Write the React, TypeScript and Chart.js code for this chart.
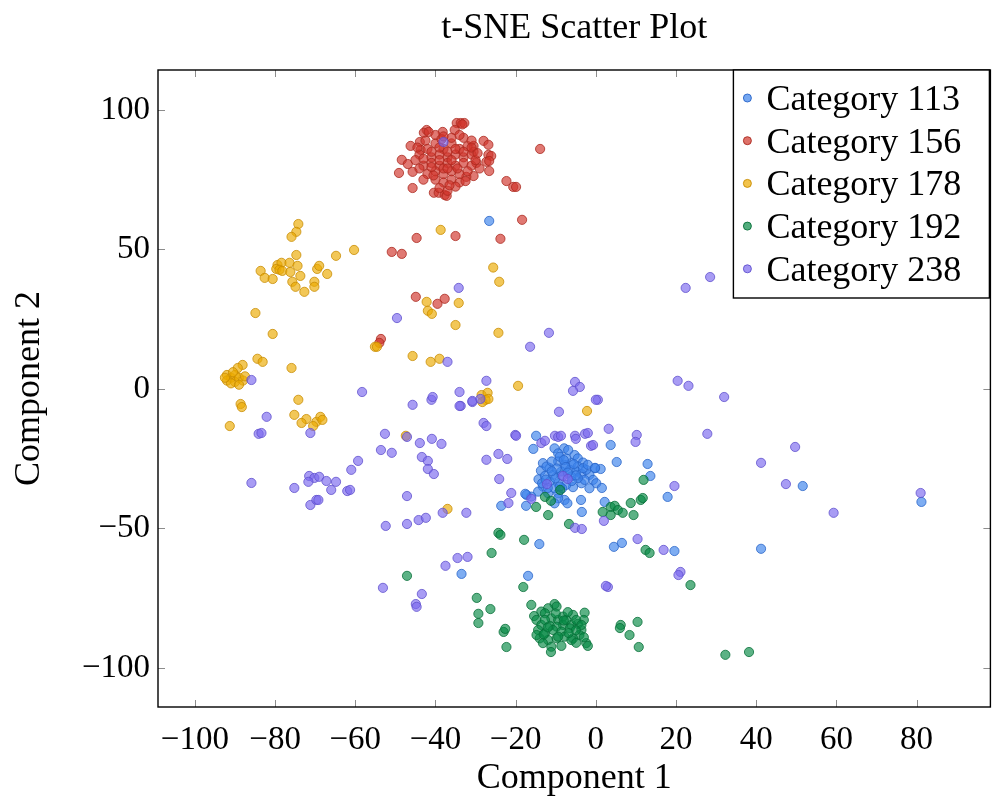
import React, { useEffect, useRef } from 'react';
import { Chart, registerables } from 'chart.js';

Chart.register(...registerables);

const FONT = '"Liberation Serif", "Times New Roman", serif';

const chartTitle = 't-SNE Scatter Plot';
const xTitle = 'Component 1';
const yTitle = 'Component 2';
const categories = ['Category 113', 'Category 156', 'Category 178', 'Category 192', 'Category 238'];
const xTicks = [-100, -80, -60, -40, -20, 0, 20, 40, 60, 80];
const yTicks = [-100, -50, 0, 50, 100];

const cat113: [number, number][] = [
  [-10.3, -21.3], [-7.9, -21.3], [-9.4, -23.1], [-5.3, -23.7], [-4.5, -24.9], [-3.2, -26.4], [-13.2, -26.6],
  [-13.7, -29.3], [-11.5, -28.4], [-9.4, -26], [-7.8, -27.2], [-6.1, -26.6], [-4.5, -27.8], [-14.3, -32.4],
  [-12.7, -31.2], [-10.7, -30.8], [-8.6, -29.6], [-6.5, -29], [-4.9, -29.6], [-3.6, -30.5], [-1.6, -30.8],
  [-0.7, -32.6], [0.1, -33.8], [-1.6, -35.6], [-3.6, -33.8], [-5.7, -35.2], [-7.4, -34.4], [-9.4, -33.8],
  [-11.5, -33.2], [-13.2, -35], [-14.4, -36.8], [-11.9, -37.4], [-9.4, -37.4], [-7.8, -39.8], [-7.1, -41],
  [-9.4, -39.2], [-10.3, -41], [-9, -24.3], [-7.4, -24.9], [-6.9, -21.9], [-12.3, -27.8], [-2.8, -32.6],
  [-4.5, -32], [-6.1, -31.4], [-10.1, -32], [-8.4, -35.6], [-13.4, -33.8], [-16.1, -38.6], [-17.3, -38],
  [-10.3, -35.6], [-2.4, -29], [-0.2, -28.4], [-3.2, -28.4], [-2, -27.2], [-8, -25.5], [-6, -33],
  [-11, -26], [-5, -31], [-12, -35.5], [-8.5, -31], [-7.5, -28], [-9.8, -28.5],
  [-11, -29.5], [-7, -30], [-9, -35], [-5.5, -27], [-12.5, -32.5],
  [-14.9, -16.8], [-15.6, -21.5], [3.7, -20.1], [5.2, -26.2], [12.9, -26.9], [13.6, -31.2], [1.2, -28.7],
  [-0.2, -28.3], [1.5, -35.5], [2.2, -40.5], [-3.7, -39.8], [-3.5, -44.1], [-23.6, -41.9], [-17.4, -41.9],
  [-17.6, -37.6], [-14.1, -55.6], [6.5, -55.2], [4.5, -56.6], [-16.9, -67], [19.6, -58.1], [-33.5, -66.3],
  [51.6, -34.8], [81.2, -40.5], [41.2, -57.3], [-26.6, 60.2], [17.9, -38.7],
];

const cat156: [number, number][] = [
  [-13.9, 86], [-22.3, 74.5], [-20.6, 72.4], [-19.9, 72.4], [-18.4, 60.6], [-23.8, 53.8], [-35, 54.8],
  [-44.7, 54.1], [-50.9, 49.1], [-48.4, 48.4], [-44.9, 33], [-39.5, 30.5], [-37.7, 32.3], [-53.6, 17.9],
  [-54, 16.5],
  [-34.7, 95.3], [-33.7, 95.3], [-32.8, 95.3], [-33.3, 94.8], [-42.2, 92.8], [-42.9, 91.8], [-41.7, 92.1],
  [-38.2, 92.1], [-35.2, 92.8], [-46.2, 87.1], [-43.9, 88.5], [-43.7, 85.7], [-28, 88.9], [-26.8, 87.5],
  [-30.5, 87.1], [-30.5, 85], [-26.8, 83.9], [-26.1, 83.5], [-27.3, 81.4], [-26.6, 81.7], [-26.6, 78.1],
  [-29.8, 81], [-30.5, 76.3], [-32.3, 76], [-48.4, 82.1], [-46.9, 80.6], [-49.1, 77.4], [-45.7, 77.8],
  [-45.7, 72], [-40.4, 70.3], [-39.2, 70.3], [-37.7, 69.5], [-37.2, 69.2],
  [-42, 86], [-40, 88], [-38, 86], [-36, 88], [-34, 86], [-32, 87], [-41, 83], [-39, 84], [-37, 83],
  [-35, 84], [-33, 83], [-31, 84], [-43, 80], [-41, 81], [-39, 80], [-37, 81], [-35, 80], [-33, 81],
  [-31, 80], [-42, 77], [-40, 78], [-38, 77], [-36, 78], [-34, 77], [-32, 78], [-40, 75], [-38, 74],
  [-36, 75], [-34, 74], [-39, 72], [-37, 71], [-44, 84], [-44, 79], [-30, 82], [-29, 79], [-45, 82],
  [-36, 90], [-40, 91], [-33, 90], [-38, 79], [-36, 82], [-39, 86.5], [-41, 79.5], [-35, 72.5],
  [-38.5, 89.5], [-43, 75], [-34, 91], [-31, 89], [-37, 85],
  [-41, 85], [-39, 82], [-37, 79], [-35, 86], [-33, 85], [-31, 86.5], [-43, 82.5], [-40.5, 76.5],
  [-36.5, 73], [-34.5, 79], [-32.5, 74.5], [-38, 90.5], [-42.5, 89], [-29.5, 84.5], [-44.5, 86.5],
];

const cat178: [number, number][] = [
  [-74.2, 59.1], [-74.7, 56.3], [-75.9, 54.5], [-74.7, 48], [-64.8, 47.7], [-60.3, 49.8], [-83.6, 42.3],
  [-82.6, 39.8], [-80.6, 39.4], [-79.4, 44.4], [-78.4, 45.2], [-79.7, 43], [-78.9, 42.7], [-78.2, 42.3],
  [-76.4, 45.2], [-76.2, 41.9], [-74.4, 44.1], [-73.7, 40.5], [-75.7, 38.4], [-74.9, 36.6], [-72.7, 34.8],
  [-69.5, 43], [-69, 44.1], [-67, 41.2], [-70.2, 38.4], [-70.2, 36.6], [-84.9, 27.2], [-80.6, 19.7],
  [-84.4, 10.8], [-83.1, 9.7], [-75.9, 7.5], [-88.1, 8.6], [-89.3, 7.5],
  [-92, 5], [-91, 4], [-90, 5], [-92, 3], [-90, 2.5], [-89, 4], [-88, 3], [-91, 2], [-89, 1.5],
  [-87.5, 4.5], [-90.5, 6], [-92.5, 4],
  [-88.6, -5.4], [-88.3, -6.5], [-91.3, -13.3], [-74.2, -3.9], [-75.2, -9.3], [-72.2, -10.8],
  [-73.4, -12.2], [-69.7, -11.8], [-68.7, -10], [-68.2, -11.1], [-70.5, -13.3],
  [-24.1, 38.4], [-25.6, 43.5], [-38.7, 57], [-42.2, 31.2], [-41.9, 28], [-40.9, 26.9], [-34.2, 30.8],
  [-35, 22.9], [-24.3, 20.1], [-55.1, 15.1], [-54.6, 15.1], [-45.7, 11.8], [-41.2, 9.7], [-39, 10.8],
  [-19.4, 1.1], [-28.5, -2.2], [-27, -1.4], [-27.5, -3.9], [-28.3, -4.7], [-26.8, -3.6], [-2.2, -7.9],
  [-37, -43], [-47.4, -16.8],
];

const cat192: [number, number][] = [
  [-16.1, -77.4], [-10.3, -77.1], [-9.8, -78], [-11.9, -78.6], [-13.6, -79.8], [-15.4, -81.4],
  [-14.8, -82.8], [-12.7, -80.4], [-11.1, -82.2], [-9.4, -82.8], [-8.2, -81.6], [-5.7, -81],
  [-2.8, -80.2], [-3, -82.8], [-4.5, -84.2], [-6.1, -84.6], [-8.2, -84.6], [-9.8, -85.2],
  [-11.5, -84.9], [-13.6, -84.6], [-14.4, -86.4], [-12.7, -87.6], [-10.7, -86.4], [-8.6, -87],
  [-6.5, -85.8], [-3.6, -86.4], [-4.1, -88.2], [-5.7, -89.4], [-7.8, -88.8], [-9.8, -89.4],
  [-11.9, -90], [-14, -89.4], [-13.2, -91.1], [-11.1, -92.4], [-8.6, -92.1], [-6.1, -90],
  [-4.9, -91], [-2.4, -91.1], [-2, -92.1], [-14.8, -88.2], [-7.4, -82.8], [-4.9, -82.8],
  [-9.4, -88.8], [-3.6, -84.6], [-12.7, -82.8],
  [-7, -80], [-10, -80.5], [-5, -86.5], [-12, -85.5], [-6.8, -87.5], [-3, -89], [-8, -83], [-13, -88],
  [11.9, -32.6], [-8.9, -36.2], [-12.7, -38.7], [-11.2, -40.1], [-14.9, -42.3], [-11.9, -45.2],
  [3.7, -42.3], [4.7, -41.9], [5.5, -43.4], [6.7, -44.4], [3.7, -45.2], [1.7, -44.1], [9.4, -45.2],
  [8.7, -40.9], [11.2, -39.8], [11.7, -39.1], [-6.7, -48.4], [-24.3, -51.6], [-23.8, -52.3],
  [-17.9, -54.1], [-26, -58.8], [-18.1, -71], [-26.3, -78.9], [-29.3, -80.6], [-29.3, -83.9],
  [-23, -87.1], [-22.6, -86], [-22.3, -92.5], [-11.2, -94.3], [12.4, -57.7], [13.4, -58.8],
  [6.2, -84.6], [6, -85.7], [8.4, -88.2], [10.4, -83.5], [10.7, -92.5], [23.6, -70.3],
  [32.3, -95.3], [38.2, -94.3], [-47.1, -67], [-29.7, -74.9],
];

const cat238: [number, number][] = [
  [22.4, 36.2], [28.5, 40.1], [20.4, 2.9], [23.1, 1.1], [32, -2.9], [0.5, -3.9], [3.2, -14.3],
  [10.2, -16.5], [9.9, -19], [27.8, -16.1], [49.7, -20.8], [41.2, -26.5], [19.6, -34.8], [47.4, -34.1],
  [81, -37.3], [59.3, -44.4], [10.4, -53.8], [16.9, -57.7], [21.1, -65.6], [20.6, -66.7], [3, -71],
  [-9.2, -8.2], [-28, -12.2], [-27.3, -13.3], [-20.1, -16.5], [-19.9, -16.8], [-10.2, -16.8],
  [-9.4, -17.2], [-8.7, -16.8], [-5.2, -16.8], [-5, -17.9], [-2.7, -16.1], [-2, -15.8], [-1.2, -20.4],
  [-0.7, -20.1], [-13.6, -19.4], [-12.7, -18.6], [-24.3, -23.3], [-22.1, -25.1], [-27.3, -25.4],
  [-24.1, -32.3], [-21.1, -37.3], [-16.1, -39.4], [-21.8, -40.9], [-8.2, -31.2], [-7, -32.3],
  [-12.2, -34.1], [2, -47.3], [-5.2, -49.8], [-3.5, -50.2],
  [-82.1, -10], [-84.1, -16.1], [-83.4, -15.8], [-71.2, -15.8], [-85.9, -33.7], [-75.2, -35.5],
  [-71.5, -31.2], [-70.2, -31.9], [-69, -31.5], [-71.7, -33.3], [-67.2, -33], [-64.8, -33.3],
  [-66, -36.2], [-71.2, -41.6], [-69.7, -39.8], [-69.2, -39.8], [-62, -36.6], [-61.3, -36.2],
  [-61, -29], [-59.3, -25.8], [-52.6, -16.1], [-53.6, -21.9], [-50.9, -22.9], [-47.1, -17.2],
  [-43.9, -19.4], [-40.9, -17.9], [-38.5, -19.7], [-43.4, -24.4], [-41.9, -25.8], [-41.9, -28.7],
  [-40.4, -30.5], [-45.7, -5.7], [-41, -3.9], [-33.7, -6.1], [-30.8, -4.7], [-47.1, -38.4],
  [-52.4, -49.1], [-47.1, -48.4], [-44.2, -47], [-42.4, -46.2], [-38.2, -44.4], [-32.3, -44.4],
  [-34.5, -60.6], [-37.5, -63.4], [-32, -60.2], [-53.1, -71.3], [-43.4, -73.5], [-44.9, -77.1],
  [-44.7, -78.1], [2.5, -70.6],
  [-34.2, 36.2], [-49.6, 25.4], [-11.7, 20.1], [-16.4, 15.1], [-37, 9.7], [-58.3, -1.1], [-27.3, 2.9],
  [-40.7, -2.9], [-34, -1.1], [-34, -6.1], [-30.8, -4.3], [-28.8, -3.6], [-5.2, 2.5], [-4, 0.7],
  [-5.7, -0.7], [0, -3.9], [-85.9, 3.2], [-38, 88.5],
];

const seriesData = [cat113, cat156, cat178, cat192, cat238];
const baseColors = ['59,130,235', '208,52,42', '236,170,0', '8,138,70', '123,104,238'];
const borderColors = ['40,100,200', '170,40,30', '200,140,0', '5,110,55', '95,80,205'];

const fmt = (v: number) => (v < 0 ? '\u2212' + Math.abs(v) : String(v));

const decorPlugin = {
  id: 'decor',
  afterDraw(chart: any) {
    const ctx = chart.ctx as CanvasRenderingContext2D;
    const { left, right, top, bottom } = chart.chartArea;
    const xs = chart.scales.x;
    const ys = chart.scales.y;
    ctx.save();
    ctx.strokeStyle = 'rgba(128,128,128,0.9)';
    ctx.lineWidth = 1;
    const tl = 7;
    xTicks.forEach((v) => {
      const px = Math.round(xs.getPixelForValue(v)) + 0.5;
      ctx.beginPath();
      ctx.moveTo(px, bottom);
      ctx.lineTo(px, bottom - tl);
      ctx.moveTo(px, top);
      ctx.lineTo(px, top + tl);
      ctx.stroke();
    });
    yTicks.forEach((v) => {
      const py = Math.round(ys.getPixelForValue(v)) + 0.5;
      ctx.beginPath();
      ctx.moveTo(left, py);
      ctx.lineTo(left + tl, py);
      ctx.moveTo(right, py);
      ctx.lineTo(right - tl, py);
      ctx.stroke();
    });
    ctx.strokeStyle = '#000';
    ctx.lineWidth = 1.4;
    ctx.strokeRect(left, top, right - left, bottom - top);
    ctx.fillStyle = '#000';
    ctx.font = `36px ${FONT}`;
    ctx.textAlign = 'center';
    ctx.textBaseline = 'alphabetic';
    ctx.fillText(chartTitle, (left + right) / 2, 38);
    const bw = 256;
    const bh = 228;
    const bx = right - 1 - bw;
    const by = top;
    ctx.fillStyle = '#fff';
    ctx.fillRect(bx, by, bw, bh);
    ctx.strokeStyle = '#000';
    ctx.lineWidth = 1.4;
    ctx.strokeRect(bx, by, bw, bh);
    ctx.textAlign = 'left';
    categories.forEach((name, i) => {
      const cy = by + 28 + i * 42.7;
      ctx.beginPath();
      ctx.arc(bx + 14, cy, 4, 0, Math.PI * 2);
      ctx.fillStyle = `rgba(${baseColors[i]},0.7)`;
      ctx.fill();
      ctx.strokeStyle = `rgba(${borderColors[i]},0.9)`;
      ctx.lineWidth = 1;
      ctx.stroke();
      ctx.fillStyle = '#000';
      ctx.font = `36px ${FONT}`;
      ctx.fillText(name, bx + 33, cy + 12);
    });
    ctx.restore();
  },
};

export default function App() {
  const ref = useRef<HTMLCanvasElement | null>(null);
  useEffect(() => {
    document.body.style.margin = '0';
    if (!ref.current) return;
    const chart = new Chart(ref.current, {
      type: 'scatter',
      data: {
        datasets: seriesData.map((pts, i) => ({
          label: categories[i],
          data: pts.map(([x, y]) => ({ x, y })),
          backgroundColor: `rgba(${baseColors[i]},0.66)`,
          borderColor: `rgba(${borderColors[i]},0.78)`,
          borderWidth: 1,
          pointRadius: 4.6,
          pointHoverRadius: 4.6,
          order: 5 - i,
        })),
      },
      options: {
        responsive: false,
        animation: false,
        layout: { padding: { top: 70, right: 2, bottom: 0, left: 0 } },
        plugins: {
          legend: { display: false },
          title: { display: false },
          tooltip: { enabled: false },
        },
        scales: {
          x: {
            type: 'linear',
            min: -109.2,
            max: 98.4,
            afterBuildTicks: (scale: any) => {
              scale.ticks = xTicks.map((v) => ({ value: v }));
            },
            afterFit: (scale: any) => {
              scale.height = 105;
            },
            grid: { display: false, drawTicks: false },
            border: { display: false },
            ticks: {
              autoSkip: false,
              maxRotation: 0,
              padding: 14,
              color: '#000',
              font: { family: FONT, size: 33 },
              callback: (v: any) => fmt(Number(v)),
            },
            title: {
              display: true,
              text: xTitle,
              color: '#000',
              font: { family: FONT, size: 36 },
              padding: { top: 0, bottom: 12 },
            },
          },
          y: {
            type: 'linear',
            min: -114,
            max: 114.3,
            afterBuildTicks: (scale: any) => {
              scale.ticks = yTicks.map((v) => ({ value: v }));
            },
            afterFit: (scale: any) => {
              scale.width = 158;
            },
            grid: { display: false, drawTicks: false },
            border: { display: false },
            ticks: {
              autoSkip: false,
              padding: 8,
              color: '#000',
              font: { family: FONT, size: 33 },
              callback: (v: any) => fmt(Number(v)),
            },
            title: {
              display: true,
              text: yTitle,
              color: '#000',
              font: { family: FONT, size: 36 },
              padding: { top: 8, bottom: 0 },
            },
          },
        },
      },
      plugins: [decorPlugin],
    } as any);
    return () => chart.destroy();
  }, []);
  return (
    <div style={{ position: 'absolute', left: 0, top: 0, width: 996, height: 812, background: '#fff' }}>
      <canvas ref={ref} width={996} height={812} style={{ width: 996, height: 812, display: 'block' }} />
    </div>
  );
}
